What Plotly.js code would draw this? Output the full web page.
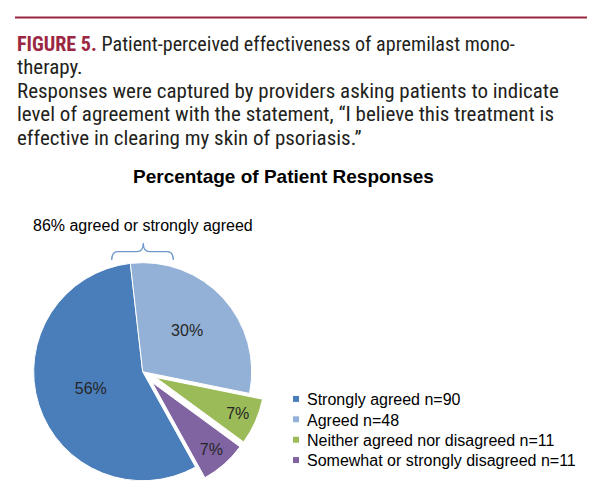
<!DOCTYPE html>
<html>
<head>
<meta charset="utf-8">
<script src="https://cdn.plot.ly/plotly-3.0.1.min.js"></script>
<style>
html, body { margin: 0; padding: 0; overflow: hidden; background: #fff; }
#chart { width: 600px; height: 496px; }
</style>
</head>
<body>
<div id="chart"></div>
<script>
// ---- data ----
const categories = ['Strongly agreed', 'Agreed', 'Neither agreed nor disagreed', 'Somewhat or strongly disagreed'];
const counts = [90, 48, 11, 11];
const legendLabels = categories.map((c, i) => c + ' n=' + counts[i]);
const sliceColors = ['#4A7EBB', '#93B1D6', '#9BBB59', '#8064A2'];
const slicePull = [0, 0, 0.13, 0.13];

const headerLines = [
  '<b><span style="color:#9B2743">FIGURE 5.</span></b> Patient-perceived effectiveness of apremilast mono-',
  'therapy.',
  'Responses were captured by providers asking patients to indicate',
  'level of agreement with the statement, \u201cI believe this treatment is',
  'effective in clearing my skin of psoriasis.\u201d'
];
const chartTitle = 'Percentage of Patient Responses';
const bracketNote = '86% agreed or strongly agreed';

// ---- layout helpers (pixel -> paper) ----
const W = 600, H = 496;
const px = x => x / W;
const py = y => 1 - y / H;
const pt = (x, y) => px(x).toFixed(5) + ',' + py(y).toFixed(5);

const narrow = '"Roboto Condensed", "Liberation Sans Narrow", "DejaVu Sans Condensed", "Liberation Sans", Arial, sans-serif';
const sans = '"Liberation Sans", Arial, Helvetica, sans-serif';

const annotations = [];
headerLines.forEach((t, i) => {
  annotations.push({
    xref: 'paper', yref: 'paper', x: px(15), y: py(43.7 + i * 23.5),
    xanchor: 'left', yanchor: 'middle', showarrow: false, align: 'left',
    text: t, font: { family: narrow, size: 20, color: '#231F20' }
  });
});
annotations.push({
  xref: 'paper', yref: 'paper', x: px(283.3), y: py(176.7),
  xanchor: 'center', yanchor: 'middle', showarrow: false,
  text: '<b>' + chartTitle + '</b>', font: { family: sans, size: 19, color: '#000' }
});
annotations.push({
  xref: 'paper', yref: 'paper', x: px(143.3), y: py(226),
  xanchor: 'center', yanchor: 'middle', showarrow: false,
  text: bracketNote, font: { family: sans, size: 16, color: '#000' }
});

const bracePath =
  'M' + pt(111.7, 260) +
  ' Q' + pt(111.7, 251.7) + ' ' + pt(118, 251.7) +
  ' L' + pt(137, 251.7) +
  ' Q' + pt(143.3, 251.7) + ' ' + pt(143.3, 243) +
  ' Q' + pt(143.3, 251.7) + ' ' + pt(149.6, 251.7) +
  ' L' + pt(167, 251.7) +
  ' Q' + pt(173.3, 251.7) + ' ' + pt(173.3, 260);

const shapes = [
  { type: 'line', xref: 'paper', yref: 'paper', x0: px(15), x1: px(587), y0: py(17.5), y1: py(17.5),
    line: { color: '#9B2743', width: 2 } },
  { type: 'path', xref: 'paper', yref: 'paper', path: bracePath,
    line: { color: '#6F97CB', width: 1.3 } }
];

const trace = {
  type: 'pie',
  labels: legendLabels,
  values: counts,
  sort: false,
  direction: 'clockwise',
  rotation: 151,
  pull: slicePull,
  marker: { colors: sliceColors, line: { color: '#ffffff', width: 1 } },
  texttemplate: '%{percent:.0%}',
  textposition: 'inside',
  insidetextorientation: 'horizontal',
  textfont: { family: sans, size: 16, color: '#262626' },
  hoverinfo: 'label+percent',
  domain: { x: [px(142.7 - 123.2), px(142.7 + 123.2)], y: [0, 248.6 / H] }
};

const layout = {
  width: W, height: H,
  margin: { l: 0, r: 0, t: 0, b: 0 },
  paper_bgcolor: '#ffffff',
  showlegend: true,
  legend: {
    x: px(267), y: py(382), xanchor: 'left', yanchor: 'top',
    font: { family: sans, size: 16, color: '#000' },
    bgcolor: 'rgba(0,0,0,0)', traceorder: 'normal'
  },
  annotations: annotations,
  shapes: shapes
};

Plotly.newPlot('chart', [trace], layout, { displayModeBar: false, staticPlot: true }).then(gd => {
  // fit the header lines to the reference's typeface width
  const anns = gd.querySelectorAll('.annotation');
  const texts = [];
  for (let i = 0; i < headerLines.length; i++) {
    const t = anns[i] && anns[i].querySelector('text.annotation-text');
    if (t) texts.push(t);
  }
  const clamp = v => Math.max(0.7, Math.min(1.15, v));
  if (texts.length === headerLines.length) {
    const f = clamp(542 / texts[2].getBBox().width);
    texts.forEach((t, i) => {
      const bb = t.getBBox();
      const fi = i === 0 ? clamp(498 / bb.width) : f;
      t.setAttribute('transform', 'translate(' + (bb.x * (1 - fi)) + ',0) scale(' + fi + ',1)');
    });
  }
  // legend: smaller square swatches, tighter rows
  const items = gd.querySelectorAll('.legend .traces');
  let y0 = null;
  items.forEach((g, i) => {
    const m = /translate\(\s*([-\d.]+)[ ,]+([-\d.]+)\s*\)/.exec(g.getAttribute('transform') || '');
    if (!m) return;
    if (y0 === null) y0 = parseFloat(m[2]);
    g.setAttribute('transform', 'translate(' + m[1] + ',' + (y0 + i * 20.4) + ')');
  });
  gd.querySelectorAll('.legend path.legendpie').forEach(p => {
    p.setAttribute('d', 'M3.5,3.5H-3.5V-3.5H3.5Z');
    p.setAttribute('transform', (p.getAttribute('transform') || '') + ' translate(9,0)');
  });
});
</script>
</body>
</html>
